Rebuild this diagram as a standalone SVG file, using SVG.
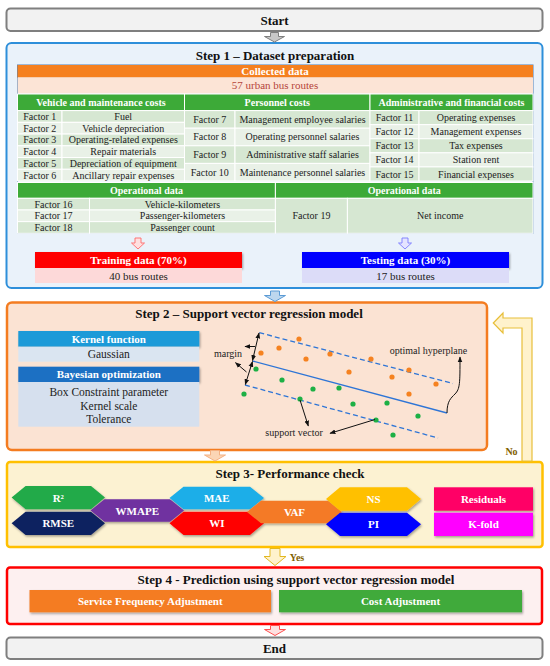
<svg xmlns="http://www.w3.org/2000/svg" width="550" height="666" viewBox="0 0 550 666">
<defs>
<style>
text{font-family:"Liberation Serif","Times New Roman",serif;text-anchor:middle}
.t{font-size:13px;font-weight:bold;fill:#111}
.h{font-size:10px;font-weight:bold;fill:#fff}
.c{font-size:10px;fill:#222}
.w{font-size:11px;font-weight:bold;fill:#fff}
.n{font-size:11px;fill:#222}
.s{font-size:10px;fill:#222}
.dk{fill:#d6e7d2;stroke:#fff;stroke-width:1}
.lt{fill:#e9f1e7;stroke:#fff;stroke-width:1}
.gh{fill:#3daa38;stroke:#fff;stroke-width:1}
.blk{fill:none;stroke:#111;stroke-width:1}
.og{fill:#f58220}
.gr{fill:#1db045}
</style>
<filter id="sh" x="-10%" y="-20%" width="120%" height="150%">
<feDropShadow dx="1" dy="1.5" stdDeviation="1" flood-color="#000" flood-opacity="0.35"/>
</filter>
<marker id="ah" viewBox="0 0 10 10" refX="9" refY="5" markerWidth="6" markerHeight="6" orient="auto-start-reverse">
<path d="M0,1 L10,5 L0,9 Z" fill="#111"/>
</marker>
</defs>
<rect width="550" height="666" fill="#fff"/>

<g id="start">
<rect x="6.5" y="8.5" width="536" height="22.5" rx="4" fill="#f2f2f2" stroke="#7f7f7f" stroke-width="2"/>
<text class="t" x="274.5" y="24.5">Start</text>
</g>

<g id="step1">
<rect x="6.5" y="43" width="536" height="245" rx="5" fill="#eaf2fa" stroke="#2e8fda" stroke-width="2"/>
<text class="t" x="275" y="60">Step 1 – Dataset preparation</text>
<rect x="17.5" y="65" width="515.5" height="168.3" fill="none" stroke="#4f7fb5" stroke-width="1"/>
<rect x="17.5" y="65" width="515.5" height="12.5" fill="#f5801f"/>
<text class="w" x="275" y="75">Collected data</text>
<rect x="17.5" y="77.5" width="515.5" height="16" fill="#fce4d6"/>
<text x="275" y="89" style="font-size:11px;fill:#b5453a">57 urban bus routes</text>
<rect class="gh" x="17.5" y="94" width="167" height="16.6"/>
<rect class="gh" x="184.5" y="94" width="185.5" height="16.6"/>
<rect class="gh" x="370" y="94" width="163" height="16.6"/>
<text class="h" x="101" y="105.5">Vehicle and maintenance costs</text>
<text class="h" x="277.25" y="105.5">Personnel costs</text>
<text class="h" x="451.5" y="105.5">Administrative and financial costs</text>

<rect class="dk" x="17.5" y="110.6" width="44.5" height="11.73"/><rect class="dk" x="62" y="110.6" width="122.5" height="11.73"/>
<rect class="lt" x="17.5" y="122.33" width="44.5" height="11.73"/><rect class="lt" x="62" y="122.33" width="122.5" height="11.73"/>
<rect class="dk" x="17.5" y="134.06" width="44.5" height="11.73"/><rect class="dk" x="62" y="134.06" width="122.5" height="11.73"/>
<rect class="lt" x="17.5" y="145.8" width="44.5" height="11.73"/><rect class="lt" x="62" y="145.8" width="122.5" height="11.73"/>
<rect class="dk" x="17.5" y="157.53" width="44.5" height="11.73"/><rect class="dk" x="62" y="157.53" width="122.5" height="11.73"/>
<rect class="lt" x="17.5" y="169.26" width="44.5" height="11.73"/><rect class="lt" x="62" y="169.26" width="122.5" height="11.73"/>
<text class="c" x="39.75" y="119.9">Factor 1</text><text class="c" x="123.25" y="119.9">Fuel</text>
<text class="c" x="39.75" y="131.6">Factor 2</text><text class="c" x="123.25" y="131.6">Vehicle depreciation</text>
<text class="c" x="39.75" y="143.4">Factor 3</text><text class="c" x="123.25" y="143.4">Operating-related expenses</text>
<text class="c" x="39.75" y="155.1">Factor 4</text><text class="c" x="123.25" y="155.1">Repair materials</text>
<text class="c" x="39.75" y="166.8">Factor 5</text><text class="c" x="123.25" y="166.8">Depreciation of equipment</text>
<text class="c" x="39.75" y="178.6">Factor 6</text><text class="c" x="123.25" y="178.6">Ancillary repair expenses</text>

<rect class="dk" x="184.5" y="110.6" width="50.5" height="17.6"/><rect class="dk" x="235" y="110.6" width="135" height="17.6"/>
<rect class="lt" x="184.5" y="128.2" width="50.5" height="17.6"/><rect class="lt" x="235" y="128.2" width="135" height="17.6"/>
<rect class="dk" x="184.5" y="145.8" width="50.5" height="17.6"/><rect class="dk" x="235" y="145.8" width="135" height="17.6"/>
<rect class="lt" x="184.5" y="163.4" width="50.5" height="17.6"/><rect class="lt" x="235" y="163.4" width="135" height="17.6"/>
<text class="c" x="209.75" y="122.8">Factor 7</text><text class="c" x="302.5" y="122.8">Management employee salaries</text>
<text class="c" x="209.75" y="140.4">Factor 8</text><text class="c" x="302.5" y="140.4">Operating personnel salaries</text>
<text class="c" x="209.75" y="158">Factor 9</text><text class="c" x="302.5" y="158">Administrative staff salaries</text>
<text class="c" x="209.75" y="175.6">Factor 10</text><text class="c" x="302.5" y="175.6">Maintenance personnel salaries</text>

<rect class="dk" x="370" y="110.6" width="49" height="14.08"/><rect class="dk" x="419" y="110.6" width="114" height="14.08"/>
<rect class="lt" x="370" y="124.68" width="49" height="14.08"/><rect class="lt" x="419" y="124.68" width="114" height="14.08"/>
<rect class="dk" x="370" y="138.76" width="49" height="14.08"/><rect class="dk" x="419" y="138.76" width="114" height="14.08"/>
<rect class="lt" x="370" y="152.84" width="49" height="14.08"/><rect class="lt" x="419" y="152.84" width="114" height="14.08"/>
<rect class="dk" x="370" y="166.92" width="49" height="14.08"/><rect class="dk" x="419" y="166.92" width="114" height="14.08"/>
<text class="c" x="394.5" y="121.1">Factor 11</text><text class="c" x="476" y="121.1">Operating expenses</text>
<text class="c" x="394.5" y="135.2">Factor 12</text><text class="c" x="476" y="135.2">Management expenses</text>
<text class="c" x="394.5" y="149.3">Factor 13</text><text class="c" x="476" y="149.3">Tax expenses</text>
<text class="c" x="394.5" y="163.4">Factor 14</text><text class="c" x="476" y="163.4">Station rent</text>
<text class="c" x="394.5" y="177.5">Factor 15</text><text class="c" x="476" y="177.5">Financial expenses</text>

<rect class="gh" x="17.5" y="182.5" width="257.9" height="15.8"/>
<rect class="gh" x="275.4" y="182.5" width="257.6" height="15.8"/>
<text class="h" x="146.5" y="194">Operational data</text>
<text class="h" x="404.2" y="194">Operational data</text>
<rect class="dk" x="17.5" y="198.3" width="72" height="11.67"/><rect class="dk" x="89.5" y="198.3" width="185.9" height="11.67"/>
<rect class="lt" x="17.5" y="209.97" width="72" height="11.67"/><rect class="lt" x="89.5" y="209.97" width="185.9" height="11.67"/>
<rect class="dk" x="17.5" y="221.64" width="72" height="11.67"/><rect class="dk" x="89.5" y="221.64" width="185.9" height="11.67"/>
<rect class="dk" x="275.4" y="198.3" width="72" height="35"/><rect class="dk" x="347.4" y="198.3" width="185.6" height="35"/>
<text class="c" x="53.5" y="207.6">Factor 16</text><text class="c" x="182.5" y="207.6">Vehicle-kilometers</text>
<text class="c" x="53.5" y="219.3">Factor 17</text><text class="c" x="182.5" y="219.3">Passenger-kilometers</text>
<text class="c" x="53.5" y="231">Factor 18</text><text class="c" x="182.5" y="231">Passenger count</text>
<text class="c" x="311.4" y="219.3">Factor 19</text><text class="c" x="440.2" y="219.3">Net income</text>

<path d="M135,238 h6 v5 h3.5 l-6.5,6 l-6.5,-6 h3.5 z" fill="#ffe0e0" stroke="#ff6a6a" stroke-width="0.9"/>
<path d="M402,238 h6 v5 h3.5 l-6.5,6 l-6.5,-6 h3.5 z" fill="#e4e4ff" stroke="#7a7aff" stroke-width="0.9"/>

<g filter="url(#sh)">
<rect x="35" y="252" width="207" height="16" fill="#ff0000"/>
<rect x="302" y="252" width="207" height="16" fill="#0000ff"/>
</g>
<rect x="35" y="268" width="207" height="15" fill="#fdd9d9"/>
<rect x="302" y="268" width="207" height="15" fill="#dcdcf8"/>
<text class="w" x="138.5" y="264">Training data (70%)</text>
<text class="n" x="138.5" y="279.5">40 bus routes</text>
<text class="w" x="405.5" y="264">Testing data (30%)</text>
<text class="n" x="405.5" y="279.5">17 bus routes</text>
</g>

<g id="step2">
<rect x="7" y="302.5" width="480" height="147.5" rx="5" fill="#fbe3d3" stroke="#f47c20" stroke-width="2.5"/>
<text class="t" x="249" y="318">Step 2 – Support vector regression model</text>
<g filter="url(#sh)">
<rect x="18.3" y="331" width="181" height="15.7" fill="#1e9ad8"/>
<rect x="18.3" y="366.7" width="181" height="15.3" fill="#1c6fc3"/>
</g>
<rect x="18.3" y="346.7" width="181" height="15" fill="#dae5f1"/>
<rect x="18.3" y="382" width="181" height="44.7" fill="#d6e0ee"/>
<text class="w" x="108.8" y="342.7">Kernel function</text>
<text x="108.8" y="358" style="font-size:11.5px;fill:#222">Gaussian</text>
<text class="w" x="108.8" y="378">Bayesian optimization</text>
<text x="108.8" y="396" style="font-size:11.5px;fill:#222">Box Constraint parameter</text>
<text x="108.8" y="409.5" style="font-size:11.5px;fill:#222">Kernel scale</text>
<text x="108.8" y="423" style="font-size:11.5px;fill:#222">Tolerance</text>

<g id="svm">
<line x1="259.3" y1="332.7" x2="453" y2="383.5" stroke="#2e75d6" stroke-width="1.3" stroke-dasharray="5,3"/>
<line x1="252.5" y1="361" x2="447" y2="413" stroke="#2e75d6" stroke-width="1.3"/>
<line x1="245" y1="385" x2="438" y2="438" stroke="#2e75d6" stroke-width="1.3" stroke-dasharray="5,3"/>
<circle class="og" cx="261" cy="353" r="2.6"/><circle class="og" cx="279" cy="348" r="2.6"/><circle class="og" cx="299" cy="339" r="2.6"/><circle class="og" cx="306" cy="359" r="2.6"/><circle class="og" cx="330" cy="354" r="2.6"/><circle class="og" cx="349" cy="372" r="2.6"/><circle class="og" cx="371" cy="359" r="2.6"/><circle class="og" cx="392" cy="377" r="2.6"/><circle class="og" cx="409" cy="370" r="2.6"/><circle class="og" cx="436" cy="384" r="2.6"/><circle class="og" cx="409" cy="394" r="2.6"/>
<circle class="gr" cx="256" cy="369" r="2.6"/><circle class="gr" cx="282" cy="380" r="2.6"/><circle class="gr" cx="244" cy="394" r="2.6"/><circle class="gr" cx="313" cy="389" r="2.6"/><circle class="gr" cx="339" cy="388" r="2.6"/><circle class="gr" cx="300" cy="399" r="2.6"/><circle class="gr" cx="353" cy="404" r="2.6"/><circle class="gr" cx="387" cy="403" r="2.6"/><circle class="gr" cx="376" cy="420" r="2.6"/><circle class="gr" cx="418" cy="416" r="2.6"/><circle class="gr" cx="393" cy="435" r="2.6"/>
<line class="blk" x1="259" y1="333" x2="252.5" y2="360.5" marker-start="url(#ah)" marker-end="url(#ah)"/>
<line class="blk" x1="252.5" y1="361.5" x2="245.3" y2="384.5" marker-start="url(#ah)" marker-end="url(#ah)"/>
<line class="blk" x1="255" y1="346.5" x2="245" y2="346.5" marker-end="url(#ah)"/>
<line class="blk" x1="246.5" y1="372" x2="235.5" y2="362.7" marker-end="url(#ah)"/>
<line class="blk" x1="300" y1="400" x2="308.3" y2="426" marker-end="url(#ah)"/>
<line class="blk" x1="375" y1="419.5" x2="330" y2="433.3" marker-end="url(#ah)"/>
<path class="blk" d="M447,413 C447,401 451,398 455,394 C460,389 460,383 460,357" marker-end="url(#ah)"/>
<text class="s" x="228" y="356.5">margin</text>
<text class="s" x="294" y="436">support vector</text>
<text class="s" x="428.5" y="353.5">optimal hyperplane</text>
</g>
</g>

<g id="step3">
<rect x="7" y="462" width="535.5" height="85" rx="3" fill="#fcf2d2" stroke="#ffc000" stroke-width="2.5"/>
<text class="t" x="290" y="478">Step 3- Performance check</text>
<g filter="url(#sh)">
<polygon points="11.6,497.6 25.6,486 91,486 105,497.6 91,509.3 25.6,509.3" fill="#20aa4a"/>
<polygon points="11.6,523.3 25.6,511.7 91,511.7 105,523.3 91,535 25.6,535" fill="#0c2060"/>
<polygon points="90.5,510.5 104.5,499.3 170,499.3 184,510.5 170,521.7 104.5,521.7" fill="#7030a0"/>
<polygon points="169.5,498 183.5,486.7 250,486.7 264,498 250,509.3 183.5,509.3" fill="#1aaee8"/>
<polygon points="169.5,523.3 183.5,511.7 250,511.7 264,523.3 250,535 183.5,535" fill="#ff0000"/>
<polygon points="247,512 261,500.7 328,500.7 342,512 328,523.3 261,523.3" fill="#f47a28"/>
<polygon points="326,499 340,487.3 407,487.3 421,499 407,510.7 340,510.7" fill="#ffc000"/>
<polygon points="326,524.3 340,512.7 407,512.7 421,524.3 407,536 340,536" fill="#0000ff"/>
<rect x="434" y="487.3" width="99" height="23.4" fill="#ff0066"/>
<rect x="434" y="512.7" width="99" height="23.3" fill="#ff00ff"/>
</g>
<text class="w" x="58.3" y="501.5">R²</text>
<text class="w" x="58.3" y="527.3">RMSE</text>
<text class="w" x="137.3" y="514.5">WMAPE</text>
<text class="w" x="216.8" y="502">MAE</text>
<text class="w" x="216.8" y="527.3">WI</text>
<text class="w" x="294.5" y="516">VAF</text>
<text class="w" x="373.5" y="503">NS</text>
<text class="w" x="373.5" y="528.3">PI</text>
<text class="w" x="483.5" y="503">Residuals</text>
<text class="w" x="483.5" y="528.3">K-fold</text>
</g>

<g id="step4">
<rect x="7" y="567.5" width="535" height="56.5" rx="3" fill="#fdf0f0" stroke="#ff0000" stroke-width="2.5"/>
<text class="t" x="296" y="584">Step 4 - Prediction using support vector regression model</text>
<g filter="url(#sh)">
<rect x="29.5" y="590" width="241.5" height="22.3" fill="#f47b20"/>
<rect x="279" y="590" width="243" height="22.3" fill="#3faa3a"/>
</g>
<text class="w" x="150.3" y="605">Service Frequency Adjustment</text>
<text class="w" x="400.5" y="605">Cost Adjustment</text>
</g>

<g id="end">
<rect x="6.5" y="637.5" width="536" height="21.5" rx="4" fill="#f2f2f2" stroke="#7f7f7f" stroke-width="2"/>
<text class="t" x="274.5" y="653">End</text>
</g>

<g id="connectors">
<path d="M270.5,32.5 h8 v4 h6 l-10,5.5 l-10,-5.5 h6 z" fill="#c8c8c8" stroke="#7f7f7f" stroke-width="1"/>
<path d="M270.5,291 h9 v4.5 h6 l-10.5,6 l-10.5,-6 h6 z" fill="#bdd7ee" stroke="#5b9bd5" stroke-width="1"/>
<path d="M210.5,450.5 h9 v4.5 h6 l-10.5,6 l-10.5,-6 h6 z" fill="#fbd5b5" stroke="#f4b183" stroke-width="1"/>
<path d="M270,548.5 h10 v8 h6 l-11,9 l-11,-9 h6 z" fill="#fff2cc" stroke="#e2b822" stroke-width="1"/>
<path d="M270.5,625.5 h9 v4 h6 l-10.5,6 l-10.5,-6 h6 z" fill="#fde0e0" stroke="#ff5050" stroke-width="1"/>
<path d="M493.3,323 L503,313 L503,318 L532,318 L532,461 L522,461 L522,328 L503,328 L503,333 Z" fill="#fff2cc" stroke="#e8bf3a" stroke-width="1.2"/>
<text x="511.5" y="455" style="font-size:10px;font-weight:bold;fill:#7f6000">No</text>
<text x="297" y="561" style="font-size:10px;font-weight:bold;fill:#7f6000">Yes</text>
</g>
</svg>
